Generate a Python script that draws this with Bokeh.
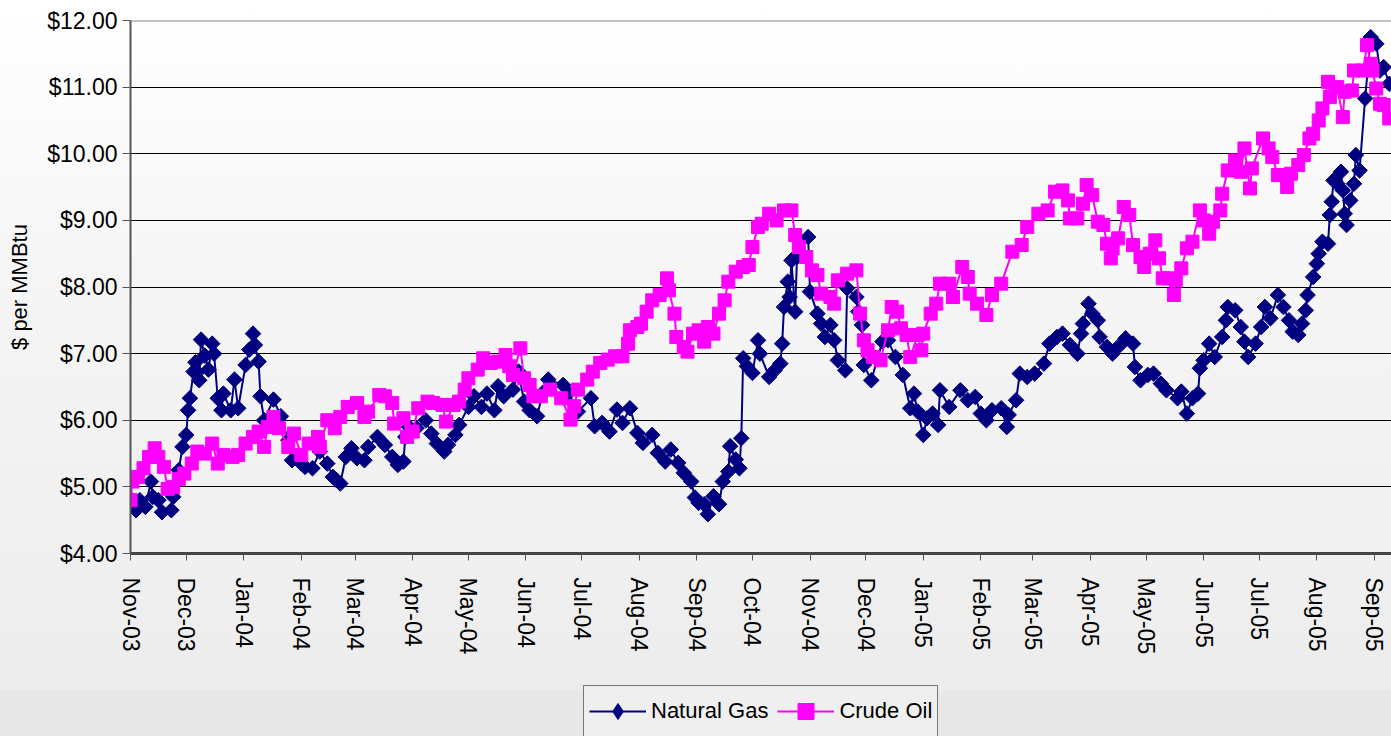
import numpy as np
import pandas as pd
from datetime import datetime
from bokeh.plotting import figure
from bokeh.layouts import column
from bokeh.models import (Range1d, NumeralTickFormatter, DatetimeTickFormatter, MonthsTicker,
                          Legend, LegendItem, Span, ColumnDataSource, FixedTicker)
from bokeh.embed import file_html
from bokeh.resources import INLINE

series_names = ["Natural Gas", "Crude Oil"]
y_ticks = [4, 5, 6, 7, 8, 9, 10, 11, 12]

gas_points = [
    ("2003-11-01", 4.82), ("2003-11-04", 4.65), ("2003-11-06", 4.80), ("2003-11-09", 4.70),
    ("2003-11-12", 5.08), ("2003-11-13", 4.85), ("2003-11-16", 4.80), ("2003-11-18", 4.62),
    ("2003-11-23", 4.65), ("2003-11-24", 4.85), ("2003-11-27", 5.25), ("2003-11-29", 5.60),
    ("2003-12-01", 5.78), ("2003-12-02", 6.15), ("2003-12-03", 6.33), ("2003-12-05", 6.73),
    ("2003-12-06", 6.87), ("2003-12-07", 6.72), ("2003-12-08", 6.60), ("2003-12-09", 7.21),
    ("2003-12-11", 6.97), ("2003-12-13", 6.76), ("2003-12-15", 7.15), ("2003-12-16", 7.00),
    ("2003-12-18", 6.33), ("2003-12-20", 6.15), ("2003-12-21", 6.40), ("2003-12-25", 6.15),
    ("2003-12-27", 6.61), ("2003-12-29", 6.18), ("2004-01-02", 6.83), ("2004-01-04", 7.06),
    ("2004-01-06", 7.30), ("2004-01-07", 7.13), ("2004-01-09", 6.88), ("2004-01-10", 6.36),
    ("2004-01-12", 6.00), ("2004-01-17", 6.31), ("2004-01-21", 6.06), ("2004-01-25", 5.70),
    ("2004-01-27", 5.40), ("2004-02-01", 5.35), ("2004-02-03", 5.30), ("2004-02-07", 5.28),
    ("2004-02-11", 5.53), ("2004-02-15", 5.35), ("2004-02-18", 5.15), ("2004-02-20", 5.10),
    ("2004-02-22", 5.05), ("2004-02-25", 5.45), ("2004-02-28", 5.58), ("2004-03-02", 5.43),
    ("2004-03-06", 5.40), ("2004-03-08", 5.60), ("2004-03-13", 5.75), ("2004-03-17", 5.63),
    ("2004-03-21", 5.45), ("2004-03-24", 5.33), ("2004-03-27", 5.38), ("2004-03-28", 5.75),
    ("2004-03-30", 5.90), ("2004-04-03", 5.88), ("2004-04-08", 6.00), ("2004-04-11", 5.80),
    ("2004-04-14", 5.65), ("2004-04-18", 5.53), ("2004-04-20", 5.63), ("2004-04-24", 5.78),
    ("2004-04-26", 5.93), ("2004-05-01", 6.20), ("2004-05-04", 6.36), ("2004-05-08", 6.20),
    ("2004-05-11", 6.40), ("2004-05-15", 6.15), ("2004-05-17", 6.51), ("2004-05-20", 6.36),
    ("2004-05-25", 6.46), ("2004-05-28", 6.73), ("2004-05-31", 6.28), ("2004-06-03", 6.15),
    ("2004-06-07", 6.06), ("2004-06-10", 6.41), ("2004-06-13", 6.61), ("2004-06-21", 6.53),
    ("2004-06-24", 6.41), ("2004-06-29", 6.13), ("2004-07-06", 6.33), ("2004-07-08", 5.91),
    ("2004-07-12", 5.96), ("2004-07-16", 5.83), ("2004-07-20", 6.16), ("2004-07-23", 5.96),
    ("2004-07-27", 6.18), ("2004-07-31", 5.81), ("2004-08-03", 5.66), ("2004-08-08", 5.78),
    ("2004-08-11", 5.51), ("2004-08-15", 5.38), ("2004-08-18", 5.56), ("2004-08-22", 5.36),
    ("2004-08-25", 5.21), ("2004-08-29", 5.08), ("2004-08-31", 4.84), ("2004-09-02", 4.76),
    ("2004-09-05", 4.74), ("2004-09-07", 4.59), ("2004-09-10", 4.86), ("2004-09-13", 4.74),
    ("2004-09-15", 5.08), ("2004-09-18", 5.23), ("2004-09-19", 5.61), ("2004-09-22", 5.41),
    ("2004-09-24", 5.28), ("2004-09-25", 5.73), ("2004-09-26", 6.93), ("2004-09-28", 6.81),
    ("2004-10-01", 6.71), ("2004-10-04", 7.20), ("2004-10-05", 7.00), ("2004-10-10", 6.65),
    ("2004-10-13", 6.75), ("2004-10-16", 6.85), ("2004-10-17", 7.15), ("2004-10-18", 7.70),
    ("2004-10-20", 8.08), ("2004-10-21", 7.85), ("2004-10-22", 8.40), ("2004-10-24", 7.63),
    ("2004-10-25", 8.45), ("2004-10-31", 8.75), ("2004-11-01", 7.93), ("2004-11-05", 7.60),
    ("2004-11-07", 7.45), ("2004-11-09", 7.25), ("2004-11-12", 7.43), ("2004-11-14", 7.20),
    ("2004-11-16", 6.90), ("2004-11-20", 6.75), ("2004-11-21", 7.98), ("2004-11-26", 7.85),
    ("2004-11-27", 7.63), ("2004-11-29", 7.43), ("2004-11-30", 6.83), ("2004-12-04", 6.60),
    ("2004-12-10", 7.18), ("2004-12-13", 7.20), ("2004-12-17", 6.95), ("2004-12-21", 6.68),
    ("2004-12-25", 6.18), ("2004-12-27", 6.40), ("2004-12-29", 6.13), ("2005-01-01", 5.78),
    ("2005-01-03", 6.03), ("2005-01-06", 6.10), ("2005-01-09", 5.93), ("2005-01-10", 6.45),
    ("2005-01-15", 6.20), ("2005-01-21", 6.45), ("2005-01-25", 6.30), ("2005-01-29", 6.35),
    ("2005-02-01", 6.10), ("2005-02-04", 6.00), ("2005-02-07", 6.15), ("2005-02-12", 6.18),
    ("2005-02-15", 5.90), ("2005-02-16", 6.08), ("2005-02-20", 6.30), ("2005-02-22", 6.70),
    ("2005-02-26", 6.65), ("2005-03-02", 6.70), ("2005-03-07", 6.85), ("2005-03-10", 7.15),
    ("2005-03-14", 7.25), ("2005-03-17", 7.30), ("2005-03-21", 7.13), ("2005-03-25", 7.00),
    ("2005-03-27", 7.30), ("2005-03-28", 7.45), ("2005-03-31", 7.75), ("2005-04-02", 7.60),
    ("2005-04-05", 7.50), ("2005-04-06", 7.25), ("2005-04-10", 7.10), ("2005-04-13", 7.00),
    ("2005-04-17", 7.13), ("2005-04-20", 7.23), ("2005-04-24", 7.15), ("2005-04-25", 6.80),
    ("2005-04-28", 6.60), ("2005-05-02", 6.68), ("2005-05-05", 6.70), ("2005-05-09", 6.55),
    ("2005-05-12", 6.45), ("2005-05-18", 6.33), ("2005-05-20", 6.43), ("2005-05-23", 6.10),
    ("2005-05-26", 6.33), ("2005-05-29", 6.40), ("2005-05-30", 6.78), ("2005-06-01", 6.90),
    ("2005-06-04", 7.15), ("2005-06-07", 6.95), ("2005-06-11", 7.25), ("2005-06-13", 7.50),
    ("2005-06-14", 7.70), ("2005-06-18", 7.65), ("2005-06-21", 7.40), ("2005-06-23", 7.18),
    ("2005-06-25", 6.95), ("2005-06-29", 7.15), ("2005-07-02", 7.40), ("2005-07-04", 7.70),
    ("2005-07-07", 7.53), ("2005-07-11", 7.88), ("2005-07-14", 7.70), ("2005-07-17", 7.50),
    ("2005-07-19", 7.33), ("2005-07-22", 7.28), ("2005-07-24", 7.45), ("2005-07-26", 7.65),
    ("2005-07-27", 7.88), ("2005-07-30", 8.15), ("2005-08-01", 8.35), ("2005-08-02", 8.50),
    ("2005-08-04", 8.68), ("2005-08-07", 8.65), ("2005-08-08", 9.08), ("2005-08-09", 9.28),
    ("2005-08-10", 9.60), ("2005-08-12", 9.55), ("2005-08-14", 9.73), ("2005-08-15", 9.45),
    ("2005-08-16", 9.10), ("2005-08-17", 8.93), ("2005-08-19", 9.30), ("2005-08-21", 9.55),
    ("2005-08-22", 9.98), ("2005-08-24", 9.75), ("2005-08-27", 10.83), ("2005-08-30", 11.75),
    ("2005-09-02", 11.65), ("2005-09-04", 11.25), ("2005-09-06", 11.30), ("2005-09-09", 11.05),
]

oil_points = [
    ("2003-11-01", 4.80), ("2003-11-02", 5.08), ("2003-11-05", 5.15), ("2003-11-08", 5.28),
    ("2003-11-11", 5.45), ("2003-11-14", 5.58), ("2003-11-16", 5.45), ("2003-11-19", 5.30),
    ("2003-11-21", 4.97), ("2003-11-24", 5.00), ("2003-11-27", 5.12), ("2003-11-30", 5.20),
    ("2003-12-04", 5.35), ("2003-12-07", 5.53), ("2003-12-11", 5.50), ("2003-12-15", 5.65),
    ("2003-12-18", 5.35), ("2003-12-21", 5.48), ("2003-12-26", 5.45), ("2003-12-29", 5.48),
    ("2004-01-02", 5.65), ("2004-01-06", 5.75), ("2004-01-09", 5.83), ("2004-01-12", 5.60),
    ("2004-01-14", 5.90), ("2004-01-17", 6.05), ("2004-01-20", 5.88), ("2004-01-25", 5.60),
    ("2004-01-28", 5.80), ("2004-02-01", 5.48), ("2004-02-05", 5.65), ("2004-02-10", 5.75),
    ("2004-02-11", 5.60), ("2004-02-15", 6.00), ("2004-02-19", 5.88), ("2004-02-22", 6.05),
    ("2004-02-26", 6.20), ("2004-03-02", 6.26), ("2004-03-06", 6.05), ("2004-03-08", 6.13),
    ("2004-03-14", 6.38), ("2004-03-17", 6.36), ("2004-03-21", 6.26), ("2004-03-22", 5.95),
    ("2004-03-27", 6.03), ("2004-03-29", 5.75), ("2004-04-01", 5.83), ("2004-04-04", 6.18),
    ("2004-04-09", 6.28), ("2004-04-12", 6.26), ("2004-04-17", 6.23), ("2004-04-19", 5.98),
    ("2004-04-23", 6.23), ("2004-04-26", 6.28), ("2004-04-29", 6.46), ("2004-05-01", 6.63),
    ("2004-05-06", 6.76), ("2004-05-09", 6.93), ("2004-05-13", 6.86), ("2004-05-17", 6.88),
    ("2004-05-21", 6.98), ("2004-05-23", 6.81), ("2004-05-25", 6.68), ("2004-05-29", 7.08),
    ("2004-05-31", 6.63), ("2004-06-03", 6.53), ("2004-06-05", 6.36), ("2004-06-09", 6.36),
    ("2004-06-14", 6.46), ("2004-06-20", 6.33), ("2004-06-25", 6.01), ("2004-06-27", 6.21),
    ("2004-06-29", 6.46), ("2004-07-04", 6.61), ("2004-07-07", 6.73), ("2004-07-11", 6.86),
    ("2004-07-15", 6.91), ("2004-07-19", 6.96), ("2004-07-23", 6.96), ("2004-07-26", 7.15),
    ("2004-07-27", 7.35), ("2004-07-31", 7.40), ("2004-08-02", 7.45), ("2004-08-05", 7.63),
    ("2004-08-08", 7.80), ("2004-08-12", 7.88), ("2004-08-16", 8.13), ("2004-08-17", 7.95),
    ("2004-08-20", 7.60), ("2004-08-21", 7.25), ("2004-08-25", 7.10), ("2004-08-27", 7.03),
    ("2004-08-30", 7.30), ("2004-09-02", 7.35), ("2004-09-05", 7.18), ("2004-09-07", 7.40),
    ("2004-09-10", 7.30), ("2004-09-13", 7.60), ("2004-09-16", 7.80), ("2004-09-18", 8.08),
    ("2004-09-22", 8.23), ("2004-09-26", 8.30), ("2004-09-29", 8.33), ("2004-10-01", 8.60),
    ("2004-10-04", 8.90), ("2004-10-06", 8.95), ("2004-10-10", 9.10), ("2004-10-14", 9.00),
    ("2004-10-18", 9.15), ("2004-10-22", 9.15), ("2004-10-24", 8.78), ("2004-10-26", 8.60),
    ("2004-10-30", 8.45), ("2004-11-02", 8.25), ("2004-11-05", 8.18), ("2004-11-07", 7.90),
    ("2004-11-12", 7.85), ("2004-11-14", 7.75), ("2004-11-16", 8.10), ("2004-11-21", 8.20),
    ("2004-11-26", 8.25), ("2004-11-28", 7.60), ("2004-11-30", 7.20), ("2004-12-02", 7.05),
    ("2004-12-05", 6.95), ("2004-12-09", 6.90), ("2004-12-13", 7.35), ("2004-12-15", 7.70),
    ("2004-12-18", 7.63), ("2004-12-20", 7.38), ("2004-12-23", 7.28), ("2004-12-25", 6.95),
    ("2004-12-29", 7.28), ("2004-12-31", 7.05), ("2005-01-01", 7.30), ("2005-01-05", 7.60),
    ("2005-01-08", 7.75), ("2005-01-10", 8.05), ("2005-01-15", 8.05), ("2005-01-17", 7.85),
    ("2005-01-22", 8.30), ("2005-01-25", 8.15), ("2005-01-26", 7.90), ("2005-01-30", 7.75),
    ("2005-02-04", 7.58), ("2005-02-07", 7.88), ("2005-02-12", 8.05), ("2005-02-18", 8.53),
    ("2005-02-23", 8.63), ("2005-02-26", 8.90), ("2005-03-04", 9.10), ("2005-03-09", 9.15),
    ("2005-03-13", 9.43), ("2005-03-17", 9.45), ("2005-03-20", 9.30), ("2005-03-21", 9.03),
    ("2005-03-25", 9.03), ("2005-03-28", 9.25), ("2005-03-30", 9.53), ("2005-04-02", 9.38),
    ("2005-04-05", 8.98), ("2005-04-08", 8.93), ("2005-04-10", 8.65), ("2005-04-12", 8.43),
    ("2005-04-13", 8.58), ("2005-04-16", 8.73), ("2005-04-19", 9.20), ("2005-04-22", 9.08),
    ("2005-04-24", 8.63), ("2005-04-28", 8.45), ("2005-04-30", 8.30), ("2005-05-03", 8.50),
    ("2005-05-06", 8.70), ("2005-05-08", 8.43), ("2005-05-10", 8.13), ("2005-05-13", 8.13),
    ("2005-05-16", 7.88), ("2005-05-17", 8.10), ("2005-05-20", 8.28), ("2005-05-23", 8.58),
    ("2005-05-26", 8.68), ("2005-05-30", 9.15), ("2005-06-01", 9.00), ("2005-06-04", 8.80),
    ("2005-06-06", 8.98), ("2005-06-10", 9.15), ("2005-06-11", 9.40), ("2005-06-14", 9.75),
    ("2005-06-18", 9.90), ("2005-06-21", 9.73), ("2005-06-23", 10.08), ("2005-06-26", 9.48),
    ("2005-06-27", 9.78), ("2005-07-03", 10.23), ("2005-07-06", 10.08), ("2005-07-08", 9.95),
    ("2005-07-11", 9.68), ("2005-07-16", 9.50), ("2005-07-18", 9.70), ("2005-07-22", 9.83),
    ("2005-07-25", 9.98), ("2005-07-28", 10.23), ("2005-07-30", 10.30), ("2005-08-02", 10.50),
    ("2005-08-04", 10.68), ("2005-08-07", 11.08), ("2005-08-08", 10.85), ("2005-08-12", 11.00),
    ("2005-08-15", 10.55), ("2005-08-16", 10.93), ("2005-08-20", 10.95), ("2005-08-21", 11.25),
    ("2005-08-26", 11.25), ("2005-08-28", 11.63), ("2005-08-30", 11.35), ("2005-08-31", 11.25),
    ("2005-09-02", 10.98), ("2005-09-04", 10.75), ("2005-09-06", 10.73), ("2005-09-09", 10.53),
]

FONT = "Liberation Sans"
GAS_COLOR = "#000080"
OIL_COLOR = "#FF00FF"
W = 1391
LEFT = 130

gas_src = ColumnDataSource(dict(date=pd.to_datetime([d for d, _ in gas_points]),
                                price=[v for _, v in gas_points]))
oil_src = ColumnDataSource(dict(date=pd.to_datetime([d for d, _ in oil_points]),
                                price=[v for _, v in oil_points]))

p = figure(width=W, height=680, x_axis_type="datetime",
           x_range=Range1d(datetime(2003, 11, 1), datetime(2005, 9, 10, 5)),
           y_range=Range1d(4, 12),
           output_backend="svg", toolbar_location=None,
           min_border_left=LEFT, min_border_right=0, min_border_top=20, min_border_bottom=127)

p.background_fill_alpha = 0
p.border_fill_alpha = 0
p.outline_line_color = None

# y axis
p.yaxis.ticker = FixedTicker(ticks=y_ticks)
p.yaxis.formatter = NumeralTickFormatter(format="$0.00")
p.yaxis.axis_label = "$ per MMBtu"
p.yaxis.axis_label_text_font = FONT
p.yaxis.axis_label_text_font_style = "normal"
p.yaxis.axis_label_text_font_size = "22px"
p.yaxis.axis_label_text_color = "black"
p.yaxis.axis_label_standoff = 12
p.yaxis.major_label_text_font = FONT
p.yaxis.major_label_text_font_size = "23px"
p.yaxis.major_label_text_color = "black"
p.yaxis.major_label_standoff = 5
p.yaxis.major_tick_out = 8
p.yaxis.major_tick_in = 0
p.yaxis.minor_tick_out = 0
p.yaxis.minor_tick_in = 0
p.yaxis.axis_line_color = "#555555"
p.yaxis.axis_line_width = 2
p.yaxis.major_tick_line_color = "#555555"

# x axis
p.xaxis.ticker = MonthsTicker(months=list(range(12)))
p.xaxis.formatter = DatetimeTickFormatter(months="%b-%y", days="%b-%y", years="%b-%y")
p.xaxis.major_label_orientation = "vertical"
p.xaxis.major_label_text_font = FONT
p.xaxis.major_label_text_font_size = "23px"
p.xaxis.major_label_text_color = "black"
p.xaxis.major_label_standoff = 17
p.xaxis.major_tick_out = 7
p.xaxis.major_tick_in = 0
p.xaxis.minor_tick_out = 0
p.xaxis.minor_tick_in = 0
p.xaxis.axis_line_color = "#444444"
p.xaxis.axis_line_width = 3
p.xaxis.major_tick_line_color = "#555555"

p.xgrid.visible = False
p.ygrid.ticker = FixedTicker(ticks=y_ticks)
p.ygrid.grid_line_color = "black"
p.ygrid.grid_line_width = 1

p.add_layout(Span(location=12, dimension="width", line_color="#888888", line_width=2))

p.line("date", "price", source=gas_src, line_color=GAS_COLOR, line_width=2)
p.scatter("date", "price", source=gas_src, marker="square", angle=np.pi / 4, size=11,
          fill_color=GAS_COLOR, line_color=GAS_COLOR)
p.line("date", "price", source=oil_src, line_color=OIL_COLOR, line_width=2)
p.scatter("date", "price", source=oil_src, marker="square", size=13,
          fill_color=OIL_COLOR, line_color=OIL_COLOR)

# Legend strip under the chart (same horizontal frame as the chart).
q = figure(width=W, height=56, x_range=Range1d(0, 1), y_range=Range1d(0, 1),
           x_axis_location=None, y_axis_location=None,
           output_backend="svg", toolbar_location=None,
           min_border_left=LEFT, min_border_right=0, min_border_top=0, min_border_bottom=0)
q.background_fill_alpha = 0
q.border_fill_alpha = 0
q.outline_line_color = None
q.grid.visible = False

gas_key_line = q.line(x=[np.nan], y=[np.nan], line_color=GAS_COLOR, line_width=2)
gas_key_mark = q.scatter(x=[np.nan], y=[np.nan], marker="diamond",
                         fill_color=GAS_COLOR, line_color=GAS_COLOR)
oil_key_line = q.line(x=[np.nan], y=[np.nan], line_color=OIL_COLOR, line_width=2)
oil_key_mark = q.scatter(x=[np.nan], y=[np.nan], marker="square",
                         fill_color=OIL_COLOR, line_color=OIL_COLOR)

legend = Legend(items=[LegendItem(label=series_names[0], renderers=[gas_key_line, gas_key_mark]),
                       LegendItem(label=series_names[1], renderers=[oil_key_line, oil_key_mark])],
                location=(453, -1), orientation="horizontal",
                label_text_font=FONT, label_text_font_size="22px", label_text_color="black",
                glyph_width=57, glyph_height=40, label_standoff=5, spacing=9, padding=5, margin=0,
                border_line_color="black", border_line_width=1,
                background_fill_color="#efefef", background_fill_alpha=1)
q.add_layout(legend)

layout = column(p, q, spacing=0)
layout.styles = {"background": "linear-gradient(to bottom, #ffffff 0%, #f5f5f5 40%, #eeeeee 85%, #ececec 93.6%, #e8e8e8 93.8%, #e8e8e8 100%)"}

open("out.html", "w").write(file_html(layout, INLINE))
